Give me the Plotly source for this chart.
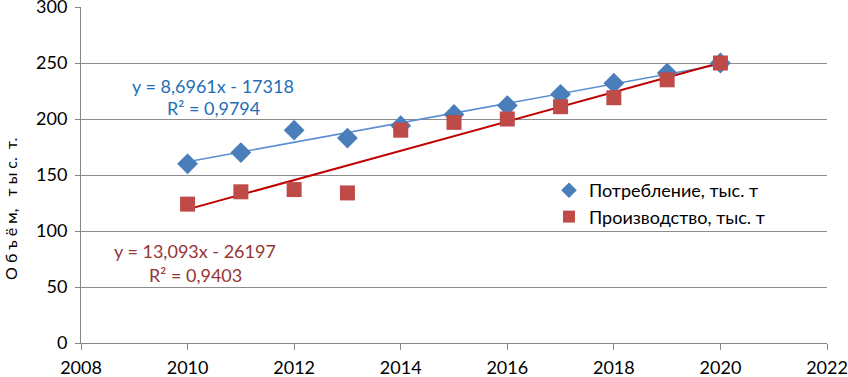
import numpy as np
import plotly.graph_objects as go

years = [2010, 2011, 2012, 2013, 2014, 2015, 2016, 2017, 2018, 2019, 2020]
consumption = [160, 170, 190, 183, 194, 204, 212, 222, 232, 241, 250]
production = [124, 135, 137, 134, 190, 197, 200, 211, 219, 235, 250]

name_cons = "Потребление, тыс. т"
name_prod = "Производство, тыс. т"
eq_cons = "y = 8,6961x - 17318"
r2_cons = "R² = 0,9794"
eq_prod = "y = 13,093x - 26197"
r2_prod = "R² = 0,9403"
y_title = "О б ъ ё м,   т ы с.  т."

x = np.array(years, dtype=float)
kc, bc = np.polyfit(x, consumption, 1)
kp, bp = np.polyfit(x, production, 1)
xt = np.array([years[0], years[-1]], dtype=float)

BLUE = "#4A7EBB"
RED = "#BE4B48"
FONT = "Lato, 'Open Sans', sans-serif"

W, H = 848, 377
# plot area in window pixels
PL, PR, PT, PB = 81, 827, 7, 343
L, R, T, B = PL, W - PR, PT, H - PB
PW, PH = PR - PL, PB - PT


def px(xp, yp):
    """window pixel -> paper coordinates"""
    return (xp - PL) / PW, 1 - (yp - PT) / PH


fig = go.Figure()
fig.add_trace(go.Scatter(x=xt, y=kc * xt + bc, mode="lines",
                         line=dict(color="#5B8FD0", width=1.5), showlegend=False, hoverinfo="skip"))
fig.add_trace(go.Scatter(x=xt, y=kp * xt + bp, mode="lines",
                         line=dict(color="#C00000", width=2), showlegend=False, hoverinfo="skip"))
fig.add_trace(go.Scatter(x=years, y=consumption, mode="markers", name=name_cons,
                         marker=dict(symbol="diamond", size=16, color=BLUE)))
fig.add_trace(go.Scatter(x=years, y=production, mode="markers", name=name_prod,
                         marker=dict(symbol="square", size=15, color=RED)))

annos = []
for txt, xp, yp, col, sz in [
    (eq_cons, 213, 86, "#1F6EB5", 18),
    (r2_cons, 213, 108, "#1F6EB5", 18),
    (eq_prod, 195, 251, "#943634", 18),
    (r2_prod, 195, 275, "#943634", 18),
]:
    ax, ay = px(xp, yp)
    annos.append(dict(x=ax, y=ay, xref="paper", yref="paper", text=txt, showarrow=False,
                      xanchor="center", yanchor="middle", font=dict(size=sz, color=col)))
ax, ay = px(10, 209)
annos.append(dict(x=ax, y=ay, xref="paper", yref="paper", text=y_title, showarrow=False,
                  xanchor="center", yanchor="middle", textangle=-90,
                  font=dict(size=16, color="#000000")))

lx, ly = px(549, 172)

fig.update_layout(
    width=W, height=H,
    margin=dict(l=L, r=R, t=T, b=B, pad=0, autoexpand=False),
    paper_bgcolor="white", plot_bgcolor="white",
    font=dict(family=FONT, size=18, color="#000000"),
    showlegend=True,
    legend=dict(x=lx, y=ly, xanchor="left", yanchor="top",
                bgcolor="rgba(0,0,0,0)", font=dict(size=18),
                itemsizing="constant", tracegroupgap=0),
    xaxis=dict(range=[2008, 2022], dtick=2, tick0=2008, showgrid=False,
               showline=True, linecolor="#868686", linewidth=1,
               ticks="outside", ticklen=6, tickcolor="#868686",
               tickfont=dict(size=18), zeroline=False, automargin=False,
               ticklabeloverflow="allow", ticklabelstandoff=2),
    yaxis=dict(range=[0, 300], dtick=50, showgrid=True, gridcolor="#8C8C8C",
               gridwidth=1.3, showline=True, linecolor="#868686", linewidth=1,
               ticks="outside", ticklen=5, tickcolor="#868686",
               tickfont=dict(size=18), zeroline=False, automargin=False,
               ticklabeloverflow="allow", ticklabelstandoff=4),
    annotations=annos,
)

fig.write_html("out.html", config={"displayModeBar": False},
               post_script="document.body.style.margin='0px';")
